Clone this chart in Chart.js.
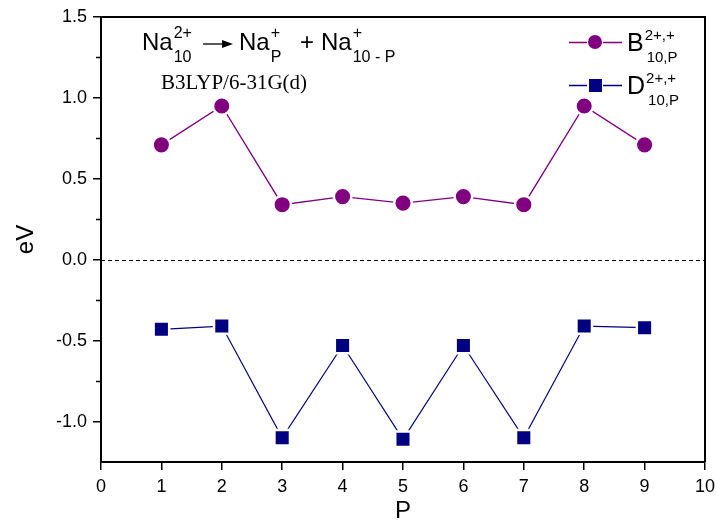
<!DOCTYPE html>
<html><head><meta charset="utf-8">
<script src="https://cdn.jsdelivr.net/npm/chart.js@4"></script>
<style>html,body{margin:0;padding:0;background:#fff}#wrap{width:717px;height:520px;position:relative}</style>
</head><body><div id="wrap"><canvas id="c" width="717" height="520"></canvas></div>
<script>
const pValues = [1, 2, 3, 4, 5, 6, 7, 8, 9];
const bValues = [0.71, 0.95, 0.34, 0.39, 0.35, 0.39, 0.34, 0.95, 0.71];
const dValues = [-0.43, -0.41, -1.10, -0.53, -1.11, -0.53, -1.10, -0.41, -0.42];
const xTickValues = [0, 1, 2, 3, 4, 5, 6, 7, 8, 9, 10];
const yTickValues = [-1.0, -0.5, 0.0, 0.5, 1.0, 1.5];
const yMinorValues = [-0.75, -0.25, 0.25, 0.75, 1.25];
const xLabel = 'P';
const yLabel = 'eV';
const methodLabel = 'B3LYP/6-31G(d)';

const SANS = '"Liberation Sans", Arial, sans-serif';
const SERIF = '"Liberation Serif", "Times New Roman", serif';
const PURPLE = '#800080';
const NAVY = '#000080';

function stack(ctx, x, base, sup, sub, size) {
  ctx.font = size + 'px ' + SANS;
  ctx.textAlign = 'left';
  let w = 0;
  if (sup) { ctx.fillText(sup, x, base - 12); w = Math.max(w, ctx.measureText(sup).width); }
  if (sub) { ctx.fillText(sub, x, base + 12); w = Math.max(w, ctx.measureText(sub).width); }
  return w;
}

const decor = {
  id: 'decor',
  beforeDatasetsDraw(chart) {
    const ctx = chart.ctx, a = chart.chartArea, y = chart.scales.y;
    ctx.save();
    ctx.strokeStyle = '#000';
    ctx.lineWidth = 1;
    ctx.setLineDash([4, 3]);
    const y0 = Math.round(y.getPixelForValue(0)) + 0.5;
    ctx.beginPath(); ctx.moveTo(a.left, y0); ctx.lineTo(a.right, y0); ctx.stroke();
    ctx.restore();
  },
  afterDraw(chart) {
    const ctx = chart.ctx, a = chart.chartArea, ys = chart.scales.y;
    ctx.save();
    ctx.strokeStyle = '#000';
    ctx.lineWidth = 2;
    ctx.beginPath();
    ctx.moveTo(a.left - 1, a.top); ctx.lineTo(a.right, a.top); ctx.lineTo(a.right, a.bottom);
    ctx.stroke();
    ctx.lineWidth = 1.5;
    yMinorValues.forEach(v => {
      const py = Math.round(ys.getPixelForValue(v)) + 0.5;
      ctx.beginPath(); ctx.moveTo(a.left - 5, py); ctx.lineTo(a.left, py); ctx.stroke();
    });
    ctx.fillStyle = '#000';
    ctx.textBaseline = 'alphabetic';
    // Title reaction
    const base = 50;
    ctx.font = '24px ' + SANS; ctx.textAlign = 'left';
    let x = 142;
    ctx.fillText('Na', x, base); x += ctx.measureText('Na').width + 1;
    stack(ctx, x, base, '2+', '10', 16);
    // arrow
    ctx.lineWidth = 1.3;
    ctx.beginPath(); ctx.moveTo(203, 44); ctx.lineTo(224, 44); ctx.stroke();
    ctx.beginPath(); ctx.moveTo(233, 44); ctx.lineTo(222, 40); ctx.lineTo(222, 48); ctx.closePath(); ctx.fill();
    ctx.font = '24px ' + SANS;
    x = 239;
    ctx.fillText('Na', x, base); x += ctx.measureText('Na').width + 1;
    stack(ctx, x, base, '+', 'P', 16);
    ctx.font = '24px ' + SANS;
    ctx.fillText('+', 300, base);
    x = 321;
    ctx.fillText('Na', x, base); x += ctx.measureText('Na').width + 1;
    stack(ctx, x, base, '+', '10 - P', 16);
    // method
    ctx.font = '21px ' + SERIF;
    ctx.fillText(methodLabel, 161, 89);
    // legend
    const legend = [
      { y: 42, color: PURPLE, style: 'circle', main: 'B' },
      { y: 85, color: NAVY, style: 'rect', main: 'D' }
    ];
    legend.forEach(L => {
      ctx.strokeStyle = L.color; ctx.lineWidth = 1.3;
      ctx.beginPath(); ctx.moveTo(569, L.y + 0.5); ctx.lineTo(587, L.y + 0.5);
      ctx.moveTo(603, L.y + 0.5); ctx.lineTo(622, L.y + 0.5); ctx.stroke();
      ctx.fillStyle = L.color;
      if (L.style === 'circle') { ctx.beginPath(); ctx.arc(595, L.y, 7, 0, Math.PI * 2); ctx.fill(); }
      else { ctx.fillRect(589, L.y - 6, 13, 13); }
      ctx.fillStyle = '#000';
      ctx.font = '25px ' + SANS; ctx.textAlign = 'left';
      ctx.fillText(L.main, 627, L.y + 9);
      const w = ctx.measureText(L.main).width;
      ctx.font = '15px ' + SANS;
      ctx.fillText('2+,+', 627 + w + 1, L.y - 2);
      ctx.fillText('10,P', 627 + w + 3, L.y + 20);
    });
    // axis titles
    ctx.font = '24px ' + SANS; ctx.textAlign = 'center';
    ctx.fillText(xLabel, (a.left + a.right) / 2, 518);
    ctx.save();
    ctx.translate(33, (a.top + a.bottom) / 2);
    ctx.rotate(-Math.PI / 2);
    ctx.fillText(yLabel, 0, 0);
    ctx.restore();
    ctx.restore();
  }
};

new Chart(document.getElementById('c'), {
  type: 'line',
  data: {
    datasets: [
      {
        label: 'B',
        data: pValues.map((p, i) => ({ x: p, y: bValues[i] })),
        borderColor: PURPLE, borderWidth: 1.3,
        pointStyle: 'circle', pointRadius: 8.8,
        pointBackgroundColor: PURPLE, pointBorderColor: '#fff', pointBorderWidth: 2.5,
        tension: 0
      },
      {
        label: 'D',
        data: pValues.map((p, i) => ({ x: p, y: dValues[i] })),
        borderColor: NAVY, borderWidth: 1.2,
        pointStyle: 'rect', pointRadius: 11,
        pointBackgroundColor: NAVY, pointBorderColor: '#fff', pointBorderWidth: 2.5,
        tension: 0
      }
    ]
  },
  options: {
    responsive: false, animation: false, devicePixelRatio: 1,
    layout: { autoPadding: false, padding: { left: 0, top: 17, right: 12, bottom: 0 } },
    plugins: { legend: { display: false }, tooltip: { enabled: false } },
    scales: {
      x: {
        type: 'linear', min: 0, max: 10,
        afterBuildTicks: s => { s.ticks = xTickValues.map(v => ({ value: v })); },
        afterFit: s => { s.height = 58; s.paddingRight = 0; s.paddingLeft = 0; },
        ticks: { color: '#000', font: { family: SANS, size: 18 }, padding: 6, maxRotation: 0 },
        grid: { drawOnChartArea: false, drawTicks: true, tickLength: 8, color: '#000', lineWidth: 1.5 },
        border: { display: true, color: '#000', width: 2 }
      },
      y: {
        type: 'linear', min: -1.25, max: 1.5,
        afterBuildTicks: s => { s.ticks = yTickValues.map(v => ({ value: v })); },
        afterFit: s => { s.width = 101; s.paddingTop = 0; s.paddingBottom = 0; },
        ticks: { color: '#000', font: { family: SANS, size: 18 }, padding: 6, callback: v => Number(v).toFixed(1) },
        grid: { drawOnChartArea: false, drawTicks: true, tickLength: 8, color: '#000', lineWidth: 1.5 },
        border: { display: true, color: '#000', width: 2 }
      }
    }
  },
  plugins: [decor]
});
</script></body></html>
